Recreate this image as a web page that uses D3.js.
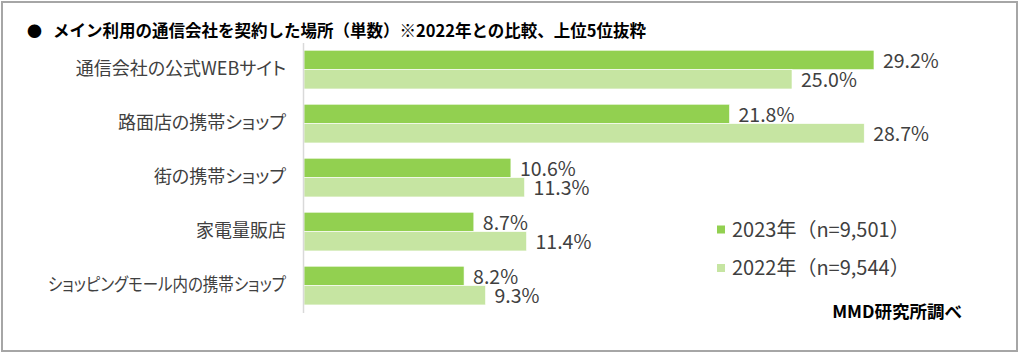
<!DOCTYPE html>
<html>
<head>
<meta charset="utf-8">
<script src="https://cdn.jsdelivr.net/npm/d3@7"></script>
<style>
  html, body { margin: 0; padding: 0; background: #fff; }
  svg text { font-family: "Noto Sans CJK JP", "Noto Sans", sans-serif; }
  .palt { font-feature-settings: "palt"; }
</style>
</head>
<body>
<div id="chart"></div>
<script>
// data
const categories = [
  "通信会社の公式WEBサイト",
  "路面店の携帯ショップ",
  "街の携帯ショップ",
  "家電量販店",
  "ショッピングモール内の携帯ショップ"
];
const seriesNames = ["2023年（n=9,501）", "2022年（n=9,544）"];
const values2023 = [29.2, 21.8, 10.6, 8.7, 8.2];
const values2022 = [25.0, 28.7, 11.3, 11.4, 9.3];
const titleText = "メイン利用の通信会社を契約した場所（単数）※2022年との比較、上位5位抜粋";
const sourceText = "MMD研究所調べ";

function drawChart() {
  const width = 1024, height = 354;
  const colors = ["#92d050", "#c6e5a2"];
  const textColor = "#404040";

  const svg = d3.select("#chart")
    .append("svg")
    .attr("width", width)
    .attr("height", height);

  // frame
  svg.append("rect")
    .attr("x", 2).attr("y", 2)
    .attr("width", 1015).attr("height", 349)
    .attr("fill", "#fff")
    .attr("stroke", "#a6a6a6")
    .attr("stroke-width", 2);

  // title
  svg.append("text")
    .attr("x", 27).attr("y", 37)
    .attr("font-size", "15px")
    .attr("fill", "#000")
    .text("●");
  svg.append("text")
    .attr("x", 53).attr("y", 37)
    .attr("font-size", "16.5px")
    .attr("font-weight", "bold")
    .attr("fill", "#000")
    .text(titleText);

  // scales
  const xScale = d3.scaleLinear()
    .domain([0, 30])
    .range([304, 304 + 30 * 19.52]);

  const yScale = d3.scaleBand()
    .domain(categories)
    .range([42.6, 312.6])
    .paddingInner(0.283)
    .paddingOuter(0.1417);

  const subScale = d3.scaleBand()
    .domain([0, 1])
    .range([0, yScale.bandwidth()]);

  const rows = categories.map((c, i) => ({ cat: c, vals: [values2023[i], values2022[i]] }));

  // bars
  const groups = svg.append("g")
    .selectAll("g")
    .data(rows)
    .join("g")
    .attr("transform", d => `translate(0, ${yScale(d.cat)})`);

  groups.selectAll("rect")
    .data(d => d.vals.map((v, j) => ({ v, j })))
    .join("rect")
    .attr("x", xScale(0))
    .attr("y", d => subScale(d.j))
    .attr("width", d => xScale(d.v) - xScale(0))
    .attr("height", subScale.bandwidth())
    .attr("fill", d => colors[d.j])
    .attr("stroke", "#fff")
    .attr("stroke-width", 0.6);

  groups.selectAll("text")
    .data(d => d.vals.map((v, j) => ({ v, j })))
    .join("text")
    .attr("x", d => xScale(d.v) + 9)
    .attr("y", d => subScale(d.j) + subScale.bandwidth() - 1.5)
    .attr("font-size", "19.5px")
    .attr("fill", textColor)
    .text(d => d.v.toFixed(1) + "%");

  // axis with category labels
  const yAxis = d3.axisLeft(yScale)
    .tickSize(0)
    .tickPadding(17);

  const axisG = svg.append("g")
    .attr("transform", `translate(${xScale(0) - 1}, 0)`)
    .call(yAxis);
  axisG.select(".domain")
    .attr("stroke", "#d9d9d9")
    .attr("stroke-width", 1.5);
  axisG.selectAll("text")
    .attr("class", "palt")
    .attr("font-size", "18px")
    .attr("fill", textColor)
    .style("font-family", "\"Noto Sans CJK JP\", sans-serif")
    .each(function () {
      // long labels are squeezed like the original's narrow kana
      const len = this.getComputedTextLength();
      if (len > 238) {
        d3.select(this)
          .attr("textLength", 238)
          .attr("lengthAdjust", "spacingAndGlyphs");
      }
    });

  // legend
  const legendY = [229.5, 268];
  const legend = svg.append("g")
    .selectAll("g")
    .data(seriesNames)
    .join("g")
    .attr("transform", (d, i) => `translate(717, ${legendY[i]})`);
  legend.append("rect")
    .attr("x", 0).attr("y", -4)
    .attr("width", 8).attr("height", 8)
    .attr("fill", (d, i) => colors[i]);
  legend.append("text")
    .attr("x", 15).attr("y", 7)
    .attr("font-size", "20px")
    .attr("fill", textColor)
    .text(d => d);

  // source
  svg.append("text")
    .attr("x", 962).attr("y", 318)
    .attr("text-anchor", "end")
    .attr("font-size", "17.5px")
    .attr("font-weight", "bold")
    .attr("fill", "#000")
    .text(sourceText);
}

drawChart();
</script>
</body>
</html>
